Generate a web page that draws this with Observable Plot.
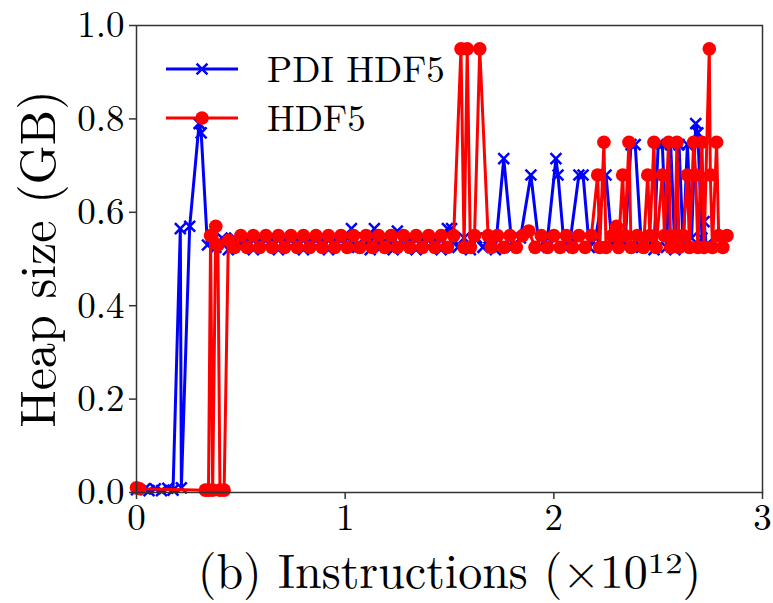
<!DOCTYPE html>
<html>
<head>
<meta charset="utf-8">
<script src="https://cdn.jsdelivr.net/npm/d3@7"></script>
<script src="https://cdn.jsdelivr.net/npm/@observablehq/plot@0.6"></script>
<style>
  html, body { margin: 0; padding: 0; background: #fff; }
  svg text { font-family: "Latin Modern Roman", "CMU Serif", "Liberation Serif", "DejaVu Serif", "Noto Serif", "Tinos", "Times New Roman", "Nimbus Roman", "Nimbus Roman No9 L", "FreeSerif", "STIX Two Text", "Georgia", serif !important; }
</style>
</head>
<body>
<div id="chart"></div>
<script>
// ---- Data ----
const seriesNames = ["PDI HDF5", "HDF5"];
const xTicks = [0, 1, 2, 3];
const yTicks = [0, 0.2, 0.4, 0.6, 0.8, 1.0];
const xLabel = "(b) Instructions (×10¹²)";
const yLabel = "Heap size (GB)";

// PDI HDF5 (blue, x markers)
const pdiX = [0.00, 0.04, 0.06, 0.09, 0.12, 0.15, 0.175, 0.21, 0.215, 0.255, 0.30, 0.31, 0.34,
  0.36, 0.38, 0.41, 0.44, 0.47, 0.50, 0.53, 0.56, 0.59, 0.62, 0.65, 0.68, 0.71, 0.74, 0.77,
  0.80, 0.83, 0.86, 0.89, 0.92, 0.95, 0.98, 1.01, 1.03, 1.06, 1.09, 1.12, 1.14, 1.17, 1.20,
  1.23, 1.25, 1.28, 1.31, 1.34, 1.37, 1.40, 1.43, 1.46, 1.49, 1.51, 1.54, 1.57, 1.60, 1.63,
  1.66, 1.69, 1.72, 1.76, 1.80, 1.84, 1.89, 1.93, 1.97, 2.01, 2.02, 2.05, 2.08, 2.12, 2.14,
  2.17, 2.20, 2.25, 2.28, 2.31, 2.34, 2.37, 2.39, 2.42, 2.45, 2.48, 2.50, 2.52, 2.54, 2.56,
  2.58, 2.60, 2.62, 2.64, 2.66, 2.68, 2.69, 2.71, 2.72, 2.73];
const pdiY = [0.006, 0.008, 0.004, 0.008, 0.004, 0.009, 0.005, 0.565, 0.01, 0.57, 0.79, 0.77, 0.53,
  0.545, 0.525, 0.545, 0.52, 0.545, 0.53, 0.545, 0.52, 0.545, 0.525, 0.545, 0.52, 0.545, 0.525, 0.545,
  0.52, 0.545, 0.525, 0.545, 0.52, 0.545, 0.525, 0.545, 0.565, 0.525, 0.545, 0.52, 0.565, 0.525, 0.545,
  0.52, 0.56, 0.525, 0.545, 0.52, 0.545, 0.525, 0.545, 0.52, 0.565, 0.565, 0.525, 0.545, 0.52, 0.545,
  0.525, 0.545, 0.52, 0.715, 0.525, 0.545, 0.68, 0.525, 0.545, 0.715, 0.68, 0.525, 0.545, 0.68, 0.68,
  0.525, 0.545, 0.68, 0.525, 0.545, 0.525, 0.745, 0.745, 0.525, 0.545, 0.52, 0.745, 0.745, 0.525, 0.745,
  0.52, 0.745, 0.525, 0.745, 0.545, 0.79, 0.77, 0.545, 0.58, 0.53];

// HDF5 (red, circle markers)
const hdfX = [0.00, 0.015, 0.33, 0.345, 0.355, 0.365, 0.38, 0.39, 0.40, 0.42, 0.44,
  0.47, 0.50, 0.53, 0.56, 0.59, 0.62, 0.65, 0.68, 0.71, 0.74, 0.77, 0.80, 0.83, 0.86, 0.89,
  0.92, 0.95, 0.98, 1.01, 1.04, 1.07, 1.10, 1.13, 1.16, 1.19, 1.22, 1.25, 1.28, 1.31, 1.34,
  1.37, 1.40, 1.43, 1.46, 1.49, 1.52, 1.555, 1.57, 1.585, 1.60, 1.62, 1.645, 1.685, 1.70, 1.73,
  1.76, 1.79, 1.82, 1.85, 1.88, 1.91, 1.94, 1.97, 2.00, 2.03, 2.06, 2.09, 2.12, 2.15, 2.18,
  2.21, 2.22, 2.24, 2.25, 2.28, 2.30, 2.31, 2.33, 2.34, 2.36, 2.37, 2.40, 2.43, 2.45, 2.46,
  2.48, 2.49, 2.52, 2.53, 2.55, 2.56, 2.58, 2.59, 2.60, 2.62, 2.64, 2.65, 2.67, 2.68, 2.69,
  2.71, 2.72, 2.745, 2.75, 2.76, 2.78, 2.79, 2.81, 2.83];
const hdfY = [0.01, 0.008, 0.005, 0.005, 0.55, 0.005, 0.57, 0.53, 0.005, 0.005, 0.54,
  0.525, 0.55, 0.525, 0.55, 0.525, 0.55, 0.525, 0.55, 0.525, 0.55, 0.525, 0.55, 0.525, 0.55, 0.525,
  0.55, 0.525, 0.55, 0.525, 0.55, 0.525, 0.55, 0.525, 0.55, 0.525, 0.55, 0.525, 0.55, 0.525, 0.55,
  0.525, 0.55, 0.525, 0.55, 0.525, 0.55, 0.95, 0.525, 0.95, 0.525, 0.55, 0.95, 0.55, 0.525, 0.55,
  0.525, 0.55, 0.525, 0.55, 0.56, 0.525, 0.55, 0.525, 0.55, 0.525, 0.55, 0.525, 0.55, 0.525, 0.55,
  0.68, 0.525, 0.75, 0.525, 0.55, 0.57, 0.525, 0.68, 0.55, 0.75, 0.525, 0.55, 0.525, 0.68, 0.55,
  0.75, 0.525, 0.68, 0.55, 0.75, 0.525, 0.55, 0.75, 0.525, 0.55, 0.68, 0.525, 0.75, 0.68, 0.525,
  0.75, 0.525, 0.95, 0.68, 0.525, 0.75, 0.55, 0.525, 0.55];

const colors = ["#0000ff", "#ff0000"];

const pdi = pdiX.map((x, i) => ({x, y: pdiY[i]}));
const hdf = hdfX.map((x, i) => ({x, y: hdfY[i]}));

const font = '"Latin Modern Roman", "CMU Serif", "Liberation Serif", "DejaVu Serif", "Noto Serif", "Tinos", "Times New Roman", "Nimbus Roman", "FreeSerif", serif';

const plot = Plot.plot({
  width: 773,
  height: 603,
  marginLeft: 136,
  marginRight: 11,
  marginTop: 25,
  marginBottom: 111,
  style: `font-family: ${font}; background: #fff; color: #000;`,
  x: {domain: [0, 3]},
  y: {domain: [0, 1]},
  marks: [
    Plot.line(pdi, {x: "x", y: "y", stroke: colors[0], strokeWidth: 3, strokeLinejoin: "round"}),
    Plot.dot(pdi, {x: "x", y: "y", symbol: "times", r: 5, stroke: colors[0], strokeWidth: 2.5}),
    Plot.line(hdf, {x: "x", y: "y", stroke: colors[1], strokeWidth: 3, strokeLinejoin: "round"}),
    Plot.dot(hdf, {x: "x", y: "y", r: 6.8, fill: colors[1], stroke: "none"}),
    Plot.frame({stroke: "#333", strokeWidth: 1.5}),
    Plot.axisX({ticks: xTicks, tickFormat: d => String(d), tickSize: 7, tickPadding: 4,
      fontSize: 37, stroke: "#333", strokeWidth: 1.5, label: null, fill: "#000"}),
    Plot.axisY({ticks: yTicks, tickFormat: d3.format(".1f"), tickSize: 7, tickPadding: 5,
      fontSize: 37, stroke: "#333", strokeWidth: 1.5, label: null, fill: "#000"}),
    Plot.text([xLabel], {frameAnchor: "bottom", dy: 80, textAnchor: "middle", lineAnchor: "middle",
      fontSize: 48, fill: "#000"}),
    Plot.text([yLabel], {frameAnchor: "left", dx: -98, rotate: -90, textAnchor: "middle",
      lineAnchor: "middle", fontSize: 50, fill: "#000"})
  ]
});

d3.select(plot).attr("font-family", font);

// Legend (inside the plot, top-left, no frame)
const svg = d3.select(plot);
const legend = svg.append("g").attr("font-family", font).attr("text-anchor", "start");
const items = [
  {name: seriesNames[0], color: colors[0], sym: "times", y: 69},
  {name: seriesNames[1], color: colors[1], sym: "circle", y: 118}
];
items.forEach(it => {
  legend.append("line").attr("x1", 166).attr("x2", 238).attr("y1", it.y).attr("y2", it.y)
    .attr("stroke", it.color).attr("stroke-width", 3);
  if (it.sym === "times") {
    legend.append("path").attr("transform", `translate(202,${it.y})`)
      .attr("d", d3.symbol(d3.symbolTimes, Math.PI * 25)())
      .attr("stroke", it.color).attr("stroke-width", 2.5).attr("fill", "none");
  } else {
    legend.append("circle").attr("cx", 202).attr("cy", it.y).attr("r", 6.8).attr("fill", it.color);
  }
  legend.append("text").attr("x", 267).attr("y", it.y).attr("dy", "0.35em")
    .attr("text-anchor", "start").attr("font-size", 37).attr("fill", "#000").text(it.name);
});

document.getElementById("chart").appendChild(plot);
</script>
</body>
</html>
